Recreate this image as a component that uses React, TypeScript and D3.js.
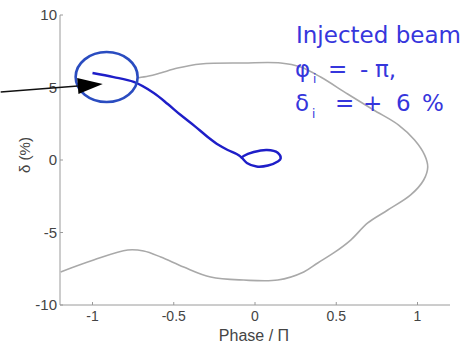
import React from "react";
import * as d3 from "d3";

// Separatrix of the RF bucket (phase in units of π, momentum deviation in %)
const separatrixPhase = [-0.722, -0.654, -0.582, -0.476, -0.334, -0.07, 0.158, 0.281, 0.404, 0.57, 0.73, 0.884, 0.982, 1.044, 1.063, 1.038, 0.958, 0.817, 0.694, 0.589, 0.484, 0.386, 0.3, 0.14, -0.07, -0.273, -0.439, -0.58, -0.685, -0.783, -0.993, -1.196];
const separatrixDelta = [5.66, 5.79, 6.0, 6.34, 6.62, 6.69, 6.69, 6.41, 5.72, 4.55, 3.45, 2.41, 1.38, 0.34, -0.48, -1.38, -2.41, -3.45, -4.34, -5.52, -6.41, -7.1, -7.72, -8.28, -8.28, -8.07, -7.38, -6.69, -6.28, -6.21, -6.9, -7.72];

// Trajectory of the injected particle
const trajPhase = [-1.0, -0.87, -0.746, -0.623, -0.537, -0.457, -0.371, -0.291, -0.223, -0.168, -0.113, -0.085, -0.05, 0.01, 0.08, 0.14, 0.158, 0.14, 0.074, -0.008, -0.07, -0.088];
const trajDelta = [6.0, 5.72, 5.38, 4.62, 3.86, 3.1, 2.34, 1.59, 1.03, 0.69, 0.41, 0.2, -0.2, -0.45, -0.38, -0.1, 0.1, 0.5, 0.69, 0.55, 0.28, 0.1];

// Injection marker
const injectCenter = { phase: -0.913, delta: 5.72 };
const arrowFrom = { phase: -1.565, delta: 4.69 };
const arrowTo = { phase: -0.937, delta: 5.24 };

const xTicks = [-1, -0.5, 0, 0.5, 1];
const yTicks = [-10, -5, 0, 5, 10];

export default function App() {
  const width = 468;
  const height = 345;
  const x = d3.scaleLinear().domain([-1.2, 1.2]).range([60, 450]);
  const y = d3.scaleLinear().domain([-10, 10]).range([305, 15]);

  const line = d3
    .line<[number, number]>()
    .x((d) => x(d[0]))
    .y((d) => y(d[1]))
    .curve(d3.curveCatmullRom.alpha(0.5));

  const sepPath = line(separatrixPhase.map((p, i) => [p, separatrixDelta[i]]));
  const trajPath = line(trajPhase.map((p, i) => [p, trajDelta[i]]));

  const ax0 = x(arrowFrom.phase);
  const ay0 = y(arrowFrom.delta);
  const ax1 = x(arrowTo.phase);
  const ay1 = y(arrowTo.delta);
  const ang = Math.atan2(ay1 - ay0, ax1 - ax0);
  const headLen = 25;
  const headHalf = 8;
  const bx = ax1 - headLen * Math.cos(ang);
  const by = ay1 - headLen * Math.sin(ang);
  const head = [
    [ax1, ay1],
    [bx + headHalf * Math.sin(ang), by - headHalf * Math.cos(ang)],
    [bx - headHalf * Math.sin(ang), by + headHalf * Math.cos(ang)],
  ]
    .map((p) => p.join(","))
    .join(" ");

  const axisColor = "#9a9a9a";
  const labelColor = "#444";
  const blueText = "#3636dc";
  const tickFont = "Liberation Sans, Arial, sans-serif";
  const annFont = "DejaVu Sans, Verdana, sans-serif";

  return (
    <svg width={width} height={height} style={{ position: "absolute", left: 0, top: 0, background: "#fff" }}>
      {/* axes */}
      <line x1={60} y1={15} x2={60} y2={305} stroke={axisColor} strokeWidth={1} />
      <line x1={60} y1={305} x2={450} y2={305} stroke={axisColor} strokeWidth={1} />
      {yTicks.map((t) => (
        <g key={"y" + t}>
          <line x1={60} x2={63} y1={y(t)} y2={y(t)} stroke={axisColor} />
          <text x={57} y={y(t)} dy="0.36em" textAnchor="end" fontFamily={tickFont} fontSize={15} fill={labelColor}>
            {t}
          </text>
        </g>
      ))}
      {xTicks.map((t) => (
        <g key={"x" + t}>
          <line x1={x(t)} x2={x(t)} y1={305} y2={302} stroke={axisColor} />
          <text x={x(t)} y={321} textAnchor="middle" fontFamily={tickFont} fontSize={14} fill={labelColor}>
            {t}
          </text>
        </g>
      ))}
      <text x={254} y={341} textAnchor="middle" fontFamily={tickFont} fontSize={16} fill={labelColor}>
        Phase / Π
      </text>
      <text transform="translate(30,155) rotate(-90)" textAnchor="middle" fontFamily={tickFont} fontSize={15} fill={labelColor}>
        δ (%)
      </text>

      {/* separatrix */}
      <path d={sepPath ?? ""} fill="none" stroke="#a9a9a9" strokeWidth={1.6} />
      {/* trajectory */}
      <path d={trajPath ?? ""} fill="none" stroke="#1e1ec8" strokeWidth={2.4} strokeLinejoin="round" />
      {/* injection circle */}
      <ellipse cx={x(injectCenter.phase)} cy={y(injectCenter.delta)} rx={31} ry={25} fill="none" stroke="#2a4cc0" strokeWidth={2.6} />
      {/* arrow */}
      <line x1={ax0} y1={ay0} x2={bx} y2={by} stroke="#111" strokeWidth={1.4} />
      <polygon points={head} fill="#000" />

      {/* annotation */}
      <g fontFamily={annFont} fill={blueText}>
        <text x={296} y={43} fontSize={23}>Injected beam</text>
        <text x={295} y={77} fontSize={23}>φ</text>
        <text x={313} y={83} fontSize={12}>i</text>
        <text x={328} y={77} fontSize={23}>=</text>
        <text x={360} y={77} fontSize={23}>-</text>
        <text x={375} y={77} fontSize={23}>π,</text>
        <text x={295} y={111} fontSize={23}>δ</text>
        <text x={312} y={118} fontSize={12}>i</text>
        <text x={335} y={111} fontSize={23}>=</text>
        <text x={363} y={111} fontSize={23}>+</text>
        <text x={396} y={111} fontSize={23}>6</text>
        <text x={422} y={111} fontSize={23}>%</text>
      </g>
    </svg>
  );
}
